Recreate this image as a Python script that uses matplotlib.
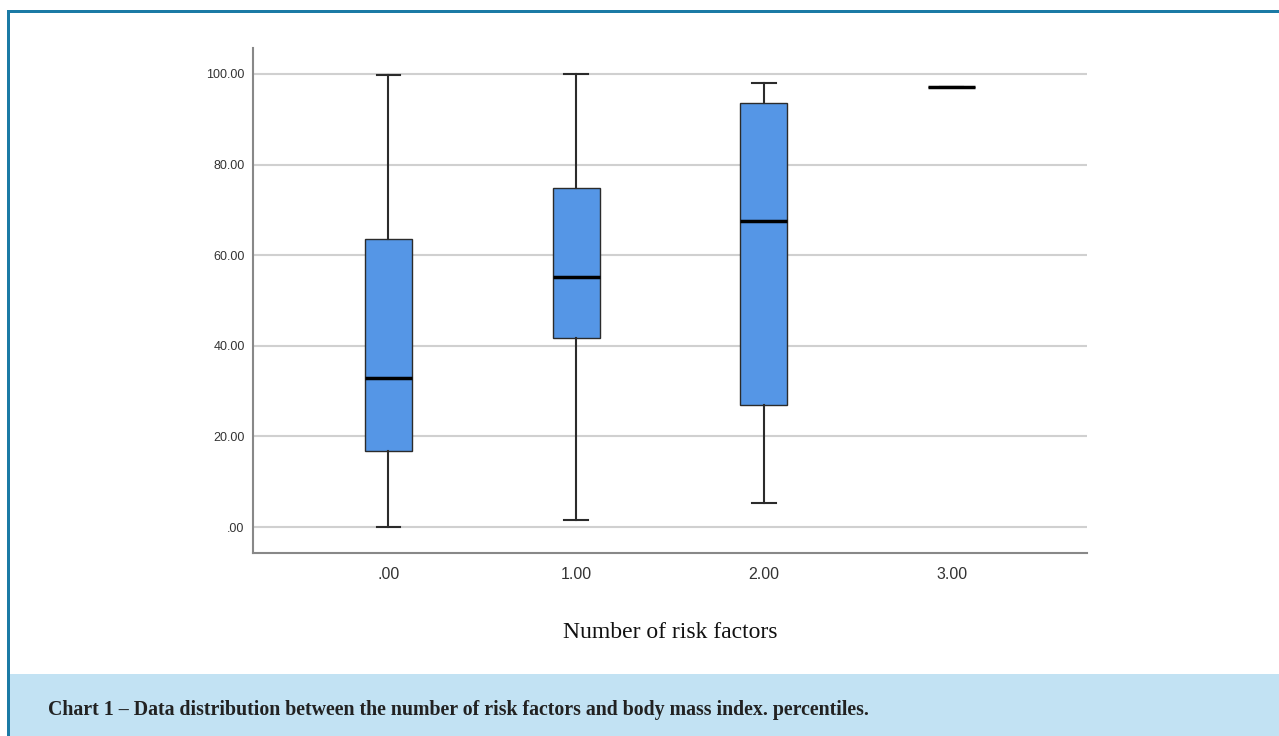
## box plot: BMI percentiles by number of risk factors
import matplotlib
matplotlib.use("Agg")
import matplotlib.pyplot as plt
from matplotlib.patches import Rectangle

W, H = 1279, 736

groups = [".00", "1.00", "2.00", "3.00"]
whislo = [0.0, 1.5, 5.3, 97.1]
q1 = [16.8, 41.7, 26.9, 97.1]
med = [32.9, 55.2, 67.5, 97.1]
q3 = [63.6, 74.8, 93.6, 97.1]
whishi = [99.8, 100.0, 98.0, 97.1]

yticks = [0, 20, 40, 60, 80, 100]
ytick_labels = [".00", "20.00", "40.00", "60.00", "80.00", "100.00"]

stats = []
for i in range(len(groups)):
    stats.append(dict(label=groups[i], whislo=whislo[i], q1=q1[i], med=med[i],
                      q3=q3[i], whishi=whishi[i], fliers=[]))

fig = plt.figure(figsize=(W / 100, H / 100), dpi=100)

# frame and caption band
fig.patches.append(Rectangle((9 / W, 0), 1 - 9 / W, 62 / H, transform=fig.transFigure,
                             facecolor="#c2e2f3", edgecolor="none", zorder=0))
fig.patches.append(Rectangle((7 / W, 0), 3 / W, 1 - 10 / H, transform=fig.transFigure,
                             facecolor="#1b7aa5", edgecolor="none", zorder=1))
fig.patches.append(Rectangle((7 / W, 1 - 13 / H), 1 - 7 / W, 3 / H, transform=fig.transFigure,
                             facecolor="#1b7aa5", edgecolor="none", zorder=1))

ax = fig.add_axes([253 / W, (H - 553) / H, 834 / W, 505 / H])

ax.bxp(stats, positions=range(len(groups)), widths=0.25, patch_artist=True,
       showfliers=False,
       boxprops=dict(facecolor="#5596e6", edgecolor="#2b2b2b", linewidth=1.0),
       medianprops=dict(color="black", linewidth=2.5),
       whiskerprops=dict(color="#2b2b2b", linewidth=1.5),
       capprops=dict(color="#2b2b2b", linewidth=1.5))

ax.set_xlim(-0.72, 3.72)
ax.set_ylim(-5.7, 105.7)
ax.set_yticks(yticks)
ax.set_yticklabels(ytick_labels, fontsize=9, family="Liberation Sans", color="#333333")
ax.set_xticks(range(len(groups)))
ax.set_xticklabels(groups, fontsize=11.5, family="Liberation Sans", color="#333333")
ax.tick_params(length=0)
ax.tick_params(axis="y", pad=6)
ax.tick_params(axis="x", pad=10)

ax.grid(axis="y", color="#d0d0d0", linewidth=1.5)
ax.set_axisbelow(True)
for s in ["top", "right"]:
    ax.spines[s].set_visible(False)
for s in ["left", "bottom"]:
    ax.spines[s].set_color("#888888")
    ax.spines[s].set_linewidth(1.5)

fig.text(670 / W, 1 - 633 / H, "Number of risk factors", ha="center", va="center",
         fontsize=17, family="Liberation Serif", color="#111111")
fig.text(48 / W, 1 - 710 / H,
         "Chart 1 \u2013 Data distribution between the number of risk factors and body mass index. percentiles.",
         ha="left", va="center", fontsize=14.3, family="Liberation Serif",
         fontweight="bold", color="#222222")

fig.savefig("out.png", dpi=100)
